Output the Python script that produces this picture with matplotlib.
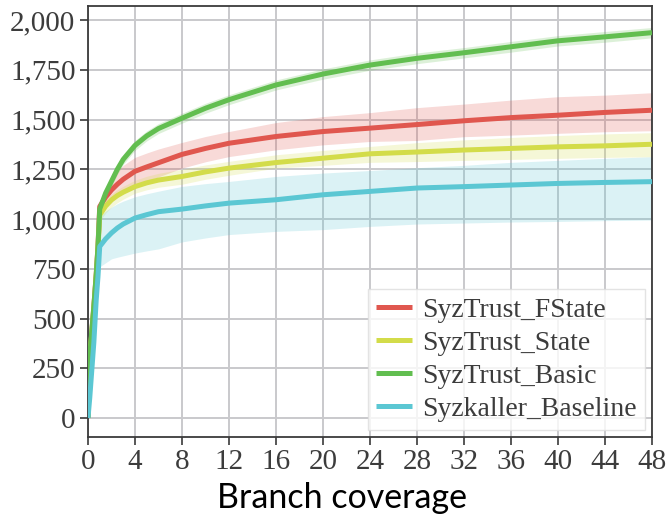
import matplotlib
matplotlib.use("Agg")
import matplotlib.pyplot as plt
from matplotlib.ticker import FuncFormatter

# ---- data ----
hours = [0, 0.15, 0.3, 0.5, 0.7, 0.85, 1.0, 1.5, 2, 2.5, 3, 4, 5, 6, 8, 10, 12, 16, 20, 24, 28, 32, 36, 40, 44, 48]

fstate_mean = [0, 300, 410, 560, 720, 860, 1063, 1110, 1146, 1175, 1200, 1240, 1262, 1283, 1325, 1355, 1381, 1415, 1440, 1457, 1475, 1494, 1510, 1522, 1536, 1547]
fstate_hi   = [0, 320, 430, 590, 760, 900, 1090, 1160, 1200, 1240, 1270, 1310, 1332, 1352, 1385, 1415, 1440, 1485, 1515, 1535, 1560, 1578, 1598, 1615, 1623, 1635]
fstate_lo   = [0, 280, 390, 530, 690, 830, 1030, 1070, 1095, 1120, 1140, 1170, 1192, 1212, 1256, 1288, 1314, 1348, 1373, 1390, 1395, 1414, 1422, 1431, 1439, 1444]

state_mean = [0, 300, 410, 550, 710, 850, 1020, 1065, 1096, 1118, 1135, 1163, 1182, 1196, 1214, 1237, 1256, 1284, 1306, 1328, 1337, 1347, 1355, 1363, 1368, 1376]
state_hi   = [0, 315, 425, 570, 735, 875, 1045, 1095, 1125, 1148, 1165, 1195, 1215, 1230, 1250, 1272, 1290, 1323, 1345, 1365, 1384, 1398, 1410, 1420, 1428, 1434]
state_lo   = [0, 285, 395, 530, 690, 825, 990, 1030, 1060, 1082, 1100, 1130, 1147, 1160, 1175, 1200, 1220, 1256, 1270, 1285, 1289, 1295, 1300, 1305, 1310, 1313]

basic_mean = [0, 310, 420, 560, 720, 860, 1050, 1130, 1190, 1250, 1300, 1370, 1418, 1455, 1507, 1557, 1600, 1674, 1729, 1774, 1808, 1836, 1866, 1896, 1916, 1937]
basic_hi   = [0, 325, 440, 585, 745, 885, 1075, 1155, 1215, 1275, 1325, 1395, 1443, 1480, 1532, 1582, 1625, 1699, 1755, 1800, 1835, 1862, 1893, 1922, 1943, 1963]
basic_lo   = [0, 295, 400, 535, 695, 835, 1025, 1105, 1165, 1225, 1275, 1345, 1393, 1430, 1482, 1532, 1575, 1649, 1703, 1748, 1781, 1810, 1839, 1870, 1889, 1911]

base_mean = [0, 100, 220, 380, 593, 710, 862, 900, 930, 955, 975, 1005, 1022, 1037, 1050, 1066, 1080, 1097, 1122, 1139, 1156, 1163, 1171, 1179, 1184, 1188]
base_hi   = [0, 110, 240, 420, 650, 780, 1013, 1040, 1060, 1077, 1090, 1112, 1127, 1140, 1164, 1178, 1189, 1214, 1231, 1244, 1258, 1270, 1285, 1295, 1305, 1313]
base_lo   = [0, 90, 200, 340, 540, 640, 760, 780, 800, 808, 815, 829, 840, 850, 885, 905, 922, 938, 947, 963, 975, 980, 985, 988, 992, 995]

series = [
    ("SyzTrust_FState", fstate_mean, fstate_lo, fstate_hi, "#E0574F"),
    ("SyzTrust_State", state_mean, state_lo, state_hi, "#D3DC4A"),
    ("SyzTrust_Basic", basic_mean, basic_lo, basic_hi, "#62BE50"),
    ("Syzkaller_Baseline", base_mean, base_lo, base_hi, "#5BC7D3"),
]

x_ticks = list(range(0, 49, 4))
y_ticks = list(range(0, 2001, 250))

# ---- figure ----
fig = plt.figure(figsize=(6.68, 5.17), dpi=100)
ax = fig.add_axes([0.1317, 0.155, 0.8443, 0.833])

serif = ["Liberation Serif", "DejaVu Serif"]

for name, m, lo, hi, c in series:
    ax.fill_between(hours, lo, hi, color=c, alpha=0.22, linewidth=0, zorder=2)
for name, m, lo, hi, c in series:
    ax.plot(hours, m, color=c, lw=3.6, label=name, zorder=3, solid_capstyle="butt")

ax.set_xlim(0, 48)
ax.set_ylim(-95, 2070)
ax.set_xticks(x_ticks)
ax.set_yticks(y_ticks)
ax.yaxis.set_major_formatter(FuncFormatter(lambda v, p: f"{int(v):,}"))
ax.grid(True, color="#C9C9CC", lw=1.4, zorder=0)
ax.set_axisbelow(True)

for s in ax.spines.values():
    s.set_color("#3A3A3A")
    s.set_linewidth(1.3)

ax.tick_params(axis="both", direction="out", length=6, width=1.2, color="#3A3A3A",
               labelcolor="#3C3C3C", labelsize=21, pad=3)
for lab in ax.get_xticklabels() + ax.get_yticklabels():
    lab.set_family(serif)

ax.set_xlabel("Branch coverage", fontsize=24.5, family=["Lato", "DejaVu Sans"], color="black")
ax.xaxis.set_label_coords(0.45, -0.105)

leg = ax.legend(loc="lower right", prop={"family": serif, "size": 20}, frameon=True,
                fancybox=False, edgecolor="#DDDDDD", framealpha=0.8,
                handlelength=1.3, handletextpad=0.35, labelspacing=0.27,
                borderpad=0.3, borderaxespad=0.25)
for t in leg.get_texts():
    t.set_color("#3C3C3C")
leg.get_frame().set_linewidth(1.0)

fig.savefig("out.png", dpi=100)
